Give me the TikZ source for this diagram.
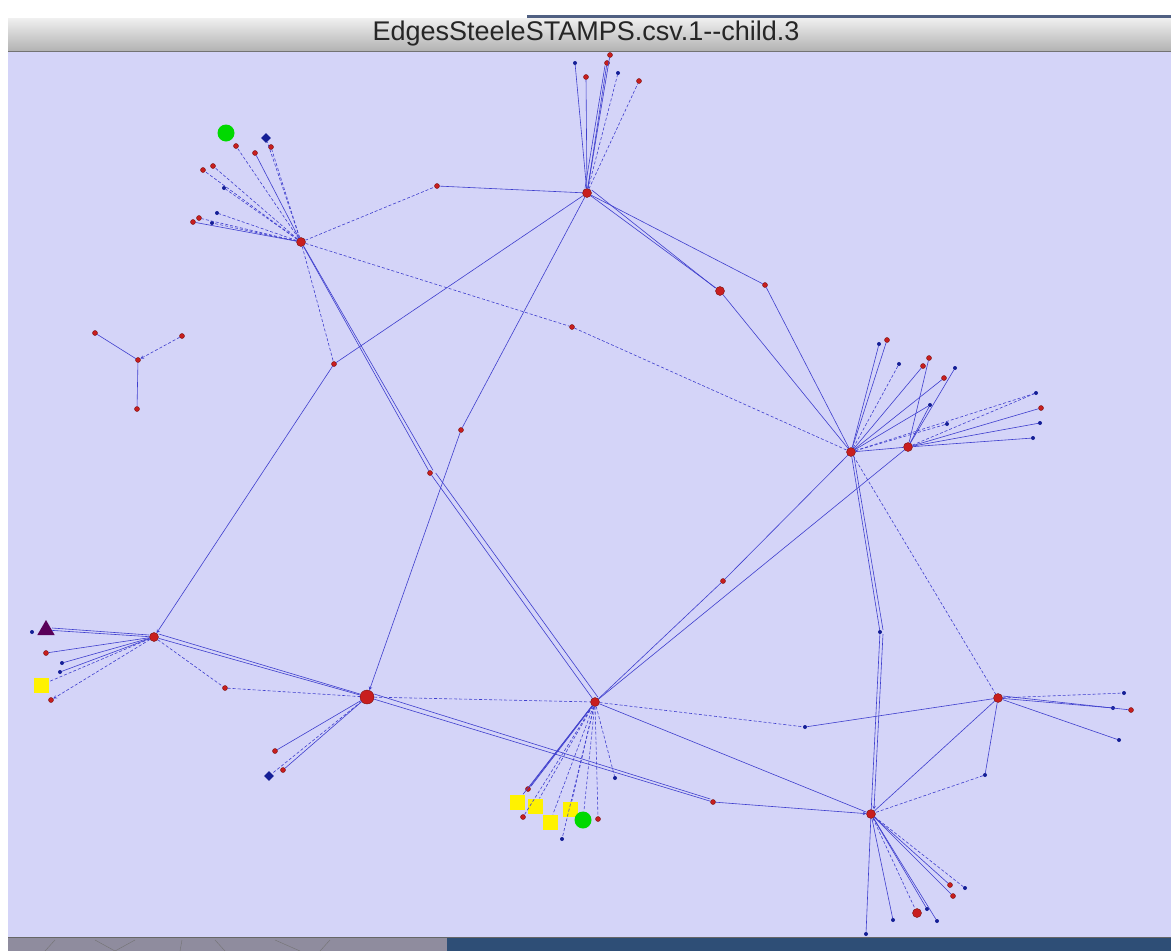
\documentclass[tikz,border=0pt]{standalone}
\usepackage{fontspec}
\setmainfont{Liberation Sans}
\usepackage{tikz}

\definecolor{edgeblue}{RGB}{62,62,205}
\definecolor{canvas}{RGB}{212,212,248}
\definecolor{nodered}{RGB}{200,30,30}
\definecolor{nodeblue}{RGB}{20,30,150}
\definecolor{framegray}{RGB}{143,140,158}
\definecolor{framenavy}{RGB}{46,78,118}
\definecolor{topline}{RGB}{80,96,130}

\tikzset{
  hub/.style={circle, fill=nodered, draw=nodered!60!black, inner sep=0pt, minimum size=9pt},
  bighub/.style={hub, minimum size=14pt},
  leaf/.style={circle, fill=nodered, draw=nodered!60!black, inner sep=0pt, minimum size=5pt},
  bleaf/.style={circle, fill=nodeblue, inner sep=0pt, minimum size=4pt},
  greenball/.style={circle, fill=green!85!black, inner sep=0pt, minimum size=17pt},
  yellowbox/.style={rectangle, fill=yellow, inner sep=0pt, minimum size=15pt},
  bluediamond/.style={diamond, fill=nodeblue, inner sep=0pt, minimum size=10pt},
  link/.style={draw=edgeblue, line width=0.6pt},
  dlink/.style={link, densely dashed},
}
\usetikzlibrary{shapes.geometric}

\begin{document}
\begin{tikzpicture}[x=1pt, y=-1pt, >=stealth]
\useasboundingbox (0,0) rectangle (1171,951);

% Window frame.
\fill[white] (0,0) rectangle (1171,951);
\fill[topline] (527,15) rectangle (1171,18);
\shade[top color=black!6, bottom color=black!30] (8,18) rectangle (1171,51);
\draw[black!55] (8,51) -- (1171,51);
\node[text=black!85] (title) at (586,34) {\fontsize{27}{27}\selectfont EdgesSteeleSTAMPS.csv.1-{}-child.3};
\fill[canvas] (8,52) rectangle (1171,937);
\fill[framegray] (8,937) rectangle (447,951);
\fill[framenavy] (447,937) rectangle (1171,951);
\draw[black!60] (8,937) -- (1171,937);
\draw[black!55] (45,951) -- (55,940) (95,940) -- (115,951) -- (135,940) (180,951) -- (182,940) (215,940) -- (225,951) (275,940) -- (300,951) (320,951) -- (330,940);

% Hubs.
\node[hub] (a) at (301,242) {};
\node[hub] (b) at (587,193) {};
\node[hub] (h) at (851,452) {};
\node[hub] (i) at (908,447) {};
\node[hub] (j) at (154,637) {};
\node[bighub] (k) at (367,697) {};
\node[hub] (l) at (595,702) {};
\node[hub] (m) at (998,698) {};
\node[hub] (n) at (871,814) {};

% Nodes in between.
\node[hub] (c) at (720,291) {};
\node[leaf] (d) at (765,285) {};
\node[leaf] (e) at (572,327) {};
\node[leaf] (f) at (334,364) {};
\node[leaf] (g) at (437,186) {};
\node[leaf] (o) at (723,581) {};
\node[leaf] (p) at (430,473) {};
\node[leaf] (q) at (461,430) {};
\node[bleaf] (s) at (805,727) {};
\node[leaf] (t) at (713,802) {};
\node[bleaf] (u) at (880,632) {};
\node[leaf] (v) at (225,688) {};
\node[bleaf] (w) at (985,775) {};

% Small graph on the left.
\node[leaf] (y0) at (138,360) {};
\node[leaf] (y1) at (95,333) {};
\node[leaf] (y2) at (182,336) {};
\node[leaf] (y3) at (137,409) {};
\draw[link] (y1) -- (y0);
\draw[dlink, ->] (y2) -- (y0);
\draw[link] (y0) -- (y3);

% Main links.
\draw[dlink] (a) -- (g);
\draw[link] (g) -- (b);
\draw[dlink] (a) -- (f);
\draw[link] (b) -- (f);
\draw[link, ->] (f) -- (j);
\draw[link] (a) -- (p);
\draw[link] ([xshift=3pt]a.south) -- ([xshift=3pt]p.north);
\draw[link] (p) -- (l);
\draw[link] ([xshift=3pt]p.east) -- ([xshift=3pt]l.north);
\draw[dlink] (a) -- (e);
\draw[dlink] (e) -- (h);
\draw[link] (b) -- (q);
\draw[link, ->] (q) -- (k);
\draw[link] (b) -- (c);
\draw[link] ([yshift=3pt]b.east) -- ([yshift=3pt]c.west);
\draw[link] (c) -- (h);
\draw[link] (b) -- (d);
\draw[link] (d) -- (h);
\draw[link] (h) -- (o);
\draw[link] (o) -- (l);
\draw[link] (i) -- (l);
\draw[link] (h) -- (i);
\draw[link] (h) -- (u);
\draw[link] ([xshift=3pt]h.south) -- ([xshift=3pt]u.north);
\draw[link] (u) -- (n);
\draw[link, ->] ([xshift=3pt]u.south) -- ([xshift=3pt]n.north);
\draw[dlink] (h) -- (m);
\draw[dlink] (l) -- (s);
\draw[link] (s) -- (m);
\draw[link] (l) -- (n);
\draw[dlink] (k) -- (l);
\draw[link] (k) -- (t);
\draw[link] ([yshift=3pt]k.east) -- ([yshift=3pt]t.west);
\draw[link, ->] (t) -- (n);
\draw[link] (m) -- (n);
\draw[link] (m) -- (w);
\draw[dlink] (w) -- (n);
\draw[link] (j) -- (k);
\draw[link] ([yshift=3pt]j.east) -- ([yshift=3pt]k.west);
\draw[dlink] (j) -- (v);
\draw[dlink] (v) -- (k);

% Leaves of a.
\node[greenball] (a1) at (226,133) {};
\node[bluediamond] (a2) at (266,138) {};
\node[leaf] (a3) at (236,146) {};
\node[leaf] (a4) at (255,153) {};
\node[leaf] (a5) at (271,147) {};
\node[leaf] (a6) at (203,170) {};
\node[leaf] (a7) at (213,166) {};
\node[bleaf] (a8) at (224,188) {};
\node[leaf] (a9) at (199,218) {};
\node[leaf] (a10) at (193,222) {};
\node[bleaf] (a11) at (217,213) {};
\node[bleaf] (a12) at (212,223) {};
\draw[dlink] (a) -- (a3);
\draw[link] (a) -- (a4);
\draw[dlink] (a) -- (a5);
\draw[dlink] (a) -- (a2);
\draw[dlink] (a) -- (a6);
\draw[dlink] (a) -- (a7);
\draw[dlink] (a) -- (a8);
\draw[dlink] (a) -- (a9);
\draw[link] (a) -- (a10);
\draw[dlink] (a) -- (a11);
\draw[dlink] (a) -- (a12);

% Leaves of b.
\node[bleaf] (b1) at (575,63) {};
\node[leaf] (b2) at (607,63) {};
\node[leaf] (b3) at (610,55) {};
\node[leaf] (b4) at (586,77) {};
\node[bleaf] (b5) at (618,73) {};
\node[leaf] (b6) at (639,81) {};
\draw[link] (b) -- (b1);
\draw[link] (b) -- (b2);
\draw[link] ([xshift=-2pt]b.north) -- ([xshift=-2pt]b2.south);
\draw[link] (b) -- (b3);
\draw[link] (b) -- (b4);
\draw[dlink] (b) -- (b5);
\draw[dlink] (b) -- (b6);

% Leaves of h and i.
\node[leaf] (h1) at (887,340) {};
\node[bleaf] (h2) at (879,344) {};
\node[bleaf] (h3) at (899,364) {};
\node[leaf] (h4) at (923,366) {};
\node[leaf] (h5) at (929,358) {};
\node[leaf] (h6) at (944,378) {};
\node[bleaf] (h7) at (955,368) {};
\node[bleaf] (i1) at (930,405) {};
\node[bleaf] (i2) at (947,424) {};
\node[bleaf] (i3) at (1036,393) {};
\node[leaf] (i4) at (1041,408) {};
\node[bleaf] (i5) at (1040,423) {};
\node[bleaf] (i6) at (1033,438) {};
\draw[link] (h) -- (h1);
\draw[link] (h) -- (h2);
\draw[dlink] (h) -- (h3);
\draw[link] (h) -- (h4);
\draw[link] (h) -- (h6);
\draw[dlink] (h) -- (i2);
\draw[dlink] (h) -- (i3);
\draw[link] (i) -- (h5);
\draw[link] (i) -- (h7);
\draw[link] (i) -- (i1);
\draw[link] (h) -- (i1);
\draw[dlink] (i) -- (i3);
\draw[link] (i) -- (i4);
\draw[link] (i) -- (i5);
\draw[link] (i) -- (i6);

% Leaves of j.
\node[regular polygon, regular polygon sides=3, fill=violet!70!black, inner sep=0pt, minimum size=20pt] (j1) at (46,630) {};
\node[bleaf] (j2) at (32,632) {};
\node[leaf] (j3) at (46,653) {};
\node[bleaf] (j4) at (62,663) {};
\node[bleaf] (j5) at (60,672) {};
\node[yellowbox] (j6) at (41,685) {};
\node[leaf] (j7) at (51,700) {};
\draw[link] (j) -- (j1);
\draw[link] ([yshift=2pt]j.west) -- ([yshift=2pt]j1.east);
\draw[link] (j) -- (j3);
\draw[link] (j) -- (j4);
\draw[link] (j) -- (j5);
\draw[dlink] (j) -- (j6);
\draw[dlink, ->] (j) -- (j7);

% Leaves of k.
\node[leaf] (k1) at (275,751) {};
\node[leaf] (k2) at (283,770) {};
\node[bluediamond] (k3) at (269,776) {};
\draw[link] (k) -- (k1);
\draw[link] (k) -- (k2);
\draw[dlink] (k) -- (k3);

% Leaves of l.
\node[leaf] (l1) at (528,789) {};
\node[yellowbox] (l2) at (517,802) {};
\node[yellowbox] (l3) at (535,806) {};
\node[leaf] (l4) at (523,817) {};
\node[yellowbox] (l5) at (550,822) {};
\node[yellowbox] (l6) at (570,809) {};
\node[greenball] (l7) at (583,820) {};
\node[leaf] (l8) at (598,819) {};
\node[bleaf] (l9) at (562,839) {};
\node[bleaf] (l10) at (615,778) {};
\draw[link] (l) -- (l1);
\draw[link] ([xshift=-3pt]l.south) -- ([xshift=3pt]l1.north);
\draw[link] (l) -- (l2);
\draw[dlink] (l) -- (l3);
\draw[dlink] (l) -- (l4);
\draw[dlink] (l) -- (l5);
\draw[dlink] (l) -- (l6);
\draw[dlink] (l) -- (l7);
\draw[dlink] (l) -- (l8);
\draw[dlink] (l) -- (l9);
\draw[dlink] (l) -- (l10);

% Leaves of m.
\node[bleaf] (m1) at (1124,693) {};
\node[bleaf] (m2) at (1113,708) {};
\node[leaf] (m3) at (1131,710) {};
\node[bleaf] (m4) at (1119,740) {};
\draw[dlink] (m) -- (m1);
\draw[link] (m) -- (m2);
\draw[link] ([yshift=2pt]m.east) -- (m3);
\draw[link] (m) -- (m4);

% Leaves of n.
\node[bleaf] (n1) at (866,934) {};
\node[bleaf] (n2) at (893,920) {};
\node[hub] (n3) at (917,913) {};
\node[bleaf] (n4) at (927,909) {};
\node[bleaf] (n5) at (937,921) {};
\node[leaf] (n6) at (950,885) {};
\node[bleaf] (n7) at (965,888) {};
\node[leaf] (n8) at (953,896) {};
\draw[link] (n) -- (n1);
\draw[link] (n) -- (n2);
\draw[dlink] (n) -- (n3);
\draw[link] (n) -- (n4);
\draw[link] (n) -- (n5);
\draw[link] (n) -- (n6);
\draw[dlink] (n) -- (n7);
\draw[link] (n) -- (n8);

\end{tikzpicture}
\end{document}
